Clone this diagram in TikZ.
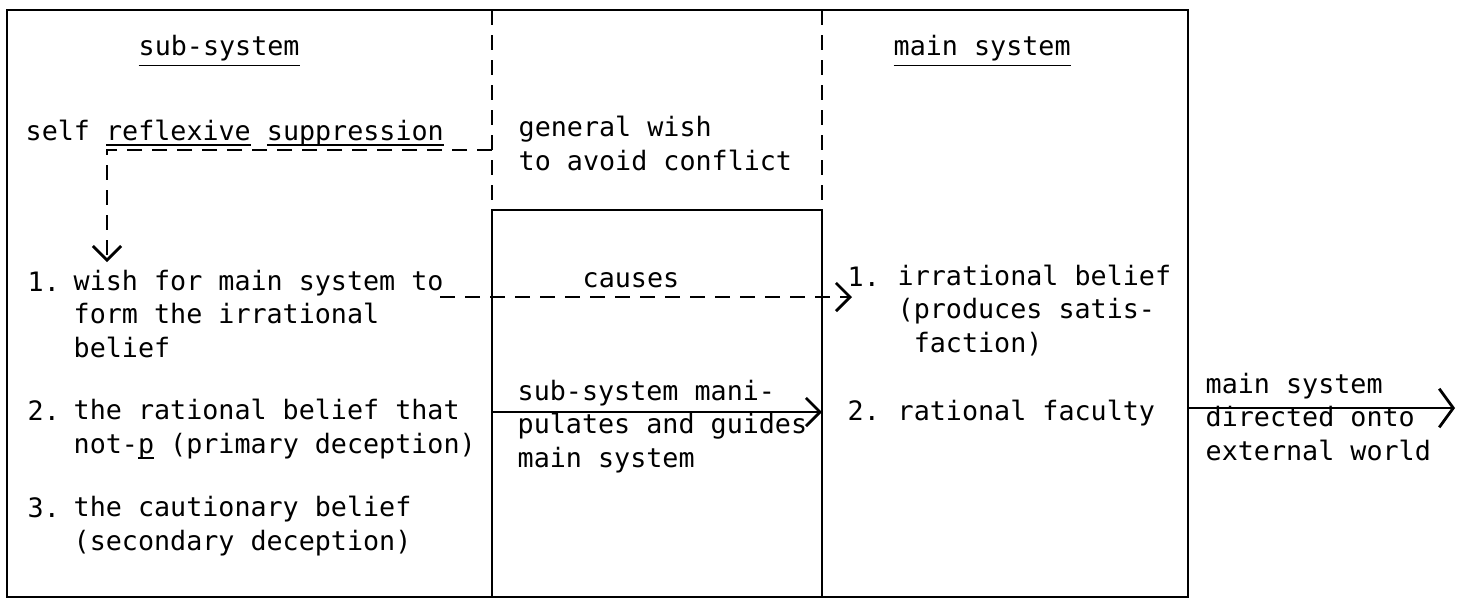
\documentclass[tikz,border=0pt]{standalone}
\usepackage{fontspec}
\newfontfamily\typewr{DejaVu Sans Mono}
\usetikzlibrary{arrows.meta}
\newcommand{\ulsmash}[1]{\underline{\smash{#1}}}
\begin{document}
\begin{tikzpicture}[
        txt/.style={anchor=base west, inner sep=0pt, align=left,
          font=\typewr\fontsize{7.6}{9.4}\selectfont},
        frame/.style={line width=0.8pt},
        dashline/.style={line width=0.8pt, dash pattern=on 0.15cm off 0.1cm},
        barb/.style={-{Straight Barb[length=4pt, width=8pt]}, line width=0.8pt}
      ]
      \useasboundingbox (0, 0) rectangle (14.59, -5.99);
      % boxes
      \draw[frame] (0.07, -0.10) rectangle (11.88, -5.97);
      \draw[dashline] (4.92, -0.10) -- (4.92, -2.10);
      \draw[dashline] (8.22, -0.10) -- (8.22, -2.10);
      \draw[frame] (4.92, -5.97) -- (4.92, -2.10) -- (8.22, -2.10) -- (8.22, -5.97);

      % left side (multi-line nodes sit on their last line)
      \node[txt] at (1.38, -0.55) (subtitle) {\underline{sub-system}};
      \node[txt] at (0.25, -1.40) (supp) {self \ulsmash{reflexive} \ulsmash{suppression}};
      \node[txt] at (0.27, -2.91) (n1) {1.};
      \node[txt] at (0.73, -3.57) (wish) {wish for main system to\\form the irrational\\belief};
      \node[txt] at (0.27, -4.20) (n2) {2.};
      \node[txt] at (0.73, -4.53) (ratbel) {the rational belief that\\not-\ulsmash{p} (primary deception)};
      \node[txt] at (0.27, -5.17) (n3) {3.};
      \node[txt] at (0.73, -5.50) (cautbel) {the cautionary belief\\(secondary deception)};

      % middle
      \node[txt] at (5.18, -1.70) (avoid) {general wish\\to avoid conflict};
      \node[txt] at (5.82, -2.87) (causes) {causes};
      \node[txt] at (5.17, -4.67) (manip) {sub-system mani-\\pulates and guides\\main system};

      % right side
      \node[txt] at (8.93, -0.55) (maintitle) {\underline{main system}};
      \node[txt] at (8.47, -2.86) (m1) {1.};
      \node[txt] at (8.97, -3.52) (irrbel) {irrational belief\\(produces satis-\\\phantom{(}faction)};
      \node[txt] at (8.47, -4.20) (m2) {2.};
      \node[txt] at (8.97, -4.20) (ratfac) {rational faculty};
      \node[txt] at (12.05, -4.60) (world) {main system\\directed onto\\external world};

      % edges
      \coordinate (suppstart) at (4.92, -1.50);
      \coordinate (suppend) at (1.07, -2.62);
      \coordinate (causestart) at (4.40, -2.97);
      \coordinate (causeend) at (8.52, -2.97);
      \coordinate (manipstart) at (4.92, -4.12);
      \coordinate (manipend) at (8.22, -4.12);
      \coordinate (worldstart) at (11.88, -4.08);
      \coordinate (worldend) at (14.55, -4.08);
      \draw[dashline, barb] (suppstart) -| (suppend);
      \draw[dashline, barb] (causestart) -- (causeend);
      \draw[barb] (manipstart) -- (manipend);
      \draw[barb, -{Straight Barb[length=4pt, width=11pt]}] (worldstart) -- (worldend);
  \end{tikzpicture}
\end{document}
